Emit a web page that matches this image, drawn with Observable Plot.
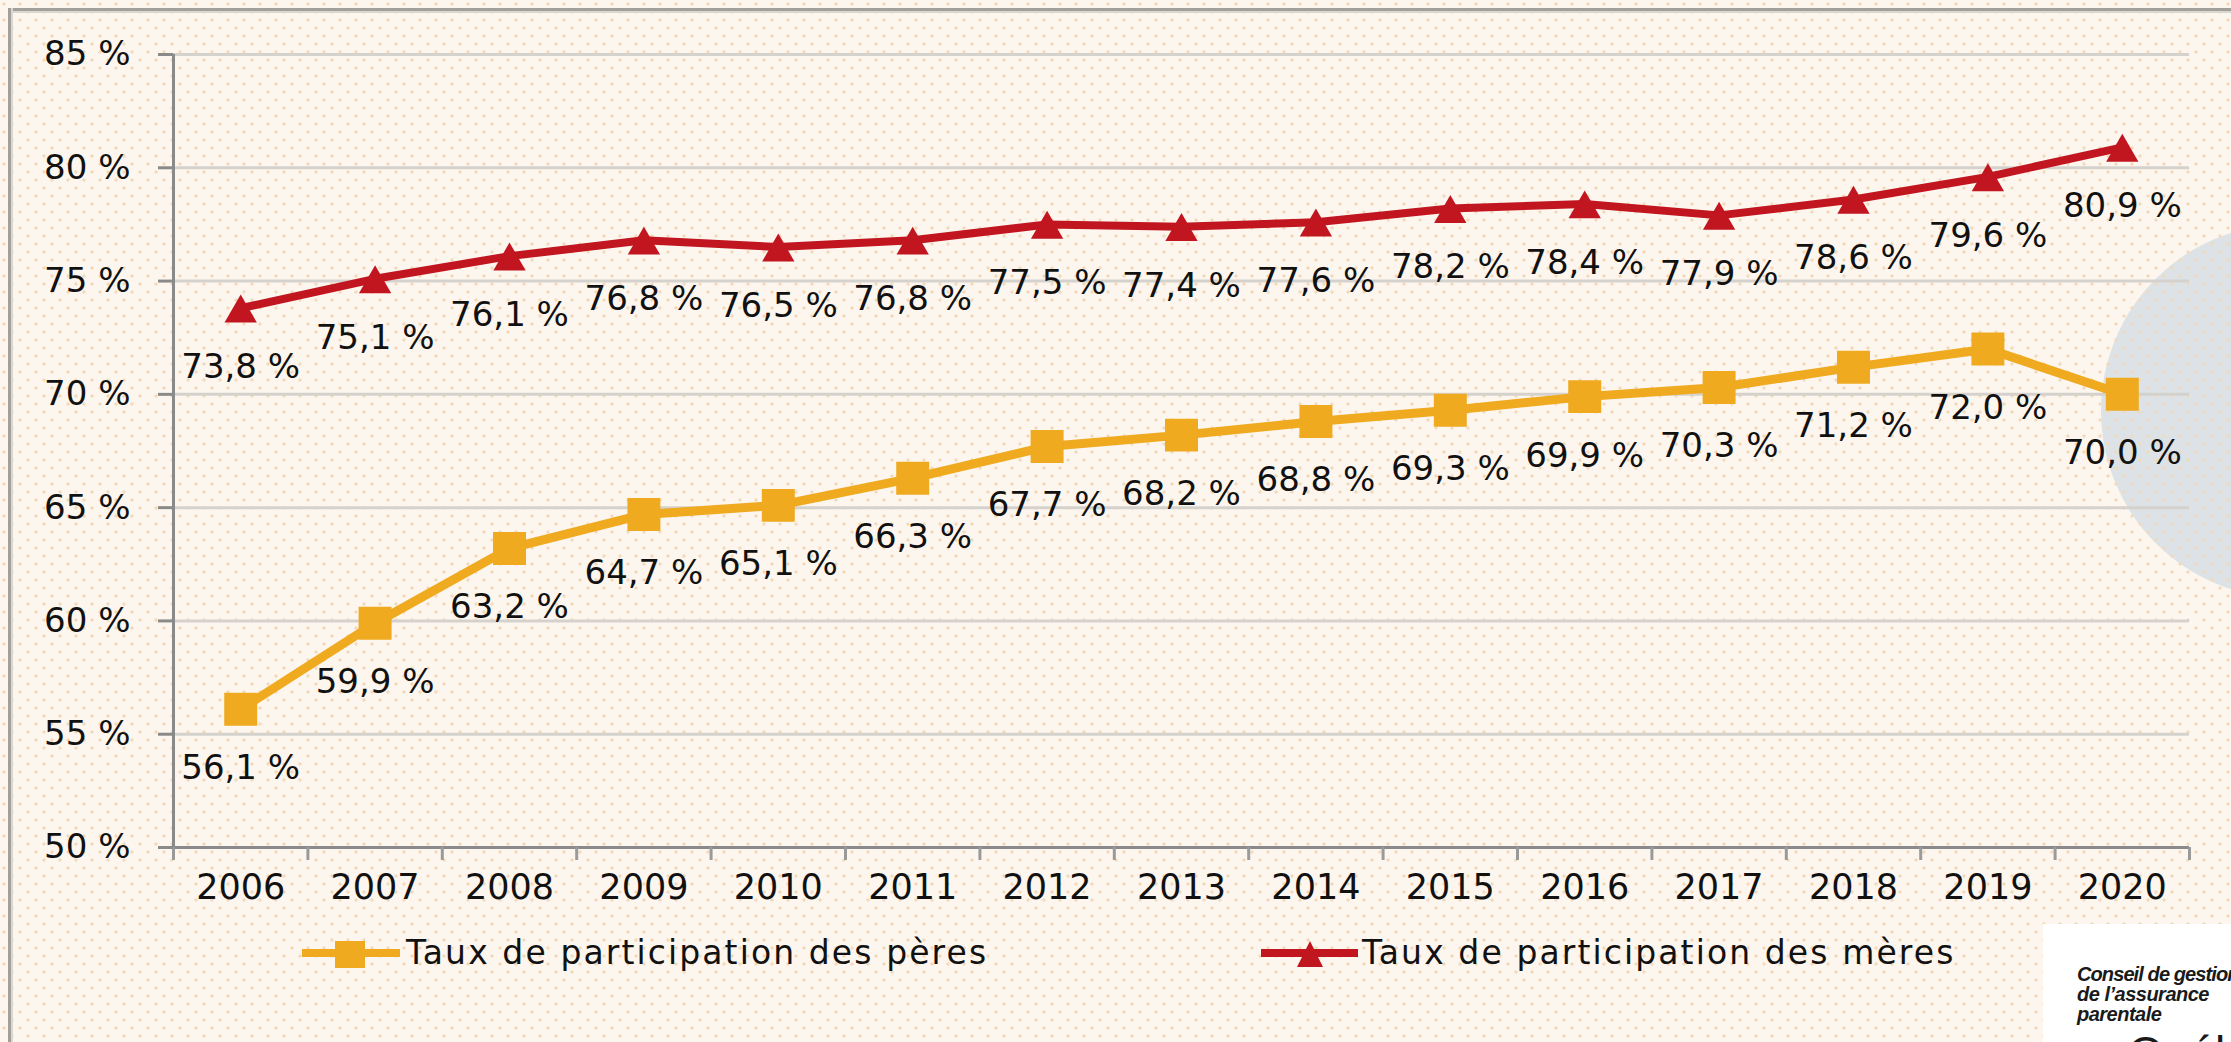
<!DOCTYPE html>
<html>
<head>
<meta charset="utf-8">
<script src="https://cdn.jsdelivr.net/npm/d3@7"></script>
<script src="https://cdn.jsdelivr.net/npm/@observablehq/plot@0.6"></script>
<style>
  html, body { margin: 0; padding: 0; background: #FDF6EE; }
  #wrap { position: relative; width: 2231px; height: 1042px; overflow: hidden; background: #FDF6EE; font-family: "DejaVu Sans", sans-serif; }
  #circle { position: absolute; left: 2101px; top: 224px; width: 374px; height: 374px; border-radius: 50%; background: #DCE2E5; }
  #dots { position: absolute; left: 0; top: 0; width: 2231px; height: 1042px;
    background-image: radial-gradient(circle at 4px 4px, #F2DABA 1.4px, transparent 1.8px),
                      radial-gradient(circle at 12px 12px, #F2DABA 1.4px, transparent 1.8px);
    background-size: 16px 16px; }
  #frameTop { position: absolute; left: 8px; top: 8px; width: 2223px; height: 3px; background: #A3A09B; border-bottom: 2px solid #DAD6D0; }
  #frameLeft { position: absolute; left: 8px; top: 8px; width: 3px; height: 1034px; background: #A3A09B; border-right: 2px solid #DAD6D0; }
  #chart { position: absolute; left: 0; top: 0; }
  .leg { position: absolute; font-size: 33px; letter-spacing: 2.1px; color: #111; white-space: nowrap; line-height: 1; }
  #logo { position: absolute; left: 2043px; top: 924px; width: 188px; height: 118px; background: #FFFFFF; overflow: hidden; }
  #logo .l { position: absolute; left: 34px; font-family: "Liberation Sans", sans-serif; font-weight: bold; font-style: italic; font-size: 20px; color: #1a1a1a; white-space: nowrap; line-height: 20px; }
</style>
</head>
<body>
<div id="wrap">
  <div id="circle"></div>
  <div id="dots"></div>
  <div id="frameTop"></div>
  <div id="frameLeft"></div>
  <div id="chart"></div>
  <div id="legend"></div>
  <div id="logo">
    <div class="l" style="top:40px;letter-spacing:-0.9px">Conseil de gestion</div>
    <div class="l" style="top:60px;letter-spacing:-0.5px">de l’assurance</div>
    <div class="l" style="top:80px;letter-spacing:-0.5px">parentale</div>
    <div style="position:absolute;left:85px;top:106px;font-family:'Liberation Sans',sans-serif;font-size:46px;color:#1a1a1a;line-height:46px;">Québec</div>
  </div>
</div>
<script>
// ---- data ----
const years = [2006, 2007, 2008, 2009, 2010, 2011, 2012, 2013, 2014, 2015, 2016, 2017, 2018, 2019, 2020];
const tauxPeres = [56.1, 59.9, 63.2, 64.7, 65.1, 66.3, 67.7, 68.2, 68.8, 69.3, 69.9, 70.3, 71.2, 72.0, 70.0];
const tauxMeres = [73.8, 75.1, 76.1, 76.8, 76.5, 76.8, 77.5, 77.4, 77.6, 78.2, 78.4, 77.9, 78.6, 79.6, 80.9];
const yTicks = [50, 55, 60, 65, 70, 75, 80, 85];
const yTickLabels = ["50 %", "55 %", "60 %", "65 %", "70 %", "75 %", "80 %", "85 %"];
const seriesNames = ["Taux de participation des pères", "Taux de participation des mères"];
const seriesColors = ["#EFAA1F", "#C1161F"];

const fmt = v => v.toFixed(1).replace(".", ",") + " %";
const peres = years.map((y, i) => ({year: y, value: tauxPeres[i], label: fmt(tauxPeres[i])}));
const meres = years.map((y, i) => ({year: y, value: tauxMeres[i], label: fmt(tauxMeres[i])}));
const bounds = [years[0] - 0.5, ...years.map(y => y + 0.5)];

const axisColor = "#8A8A8A";
const chart = Plot.plot({
  width: 2231,
  height: 1042,
  marginLeft: 173,
  marginRight: 42,
  marginTop: 54,
  marginBottom: 195,
  x: {domain: [bounds[0], bounds[bounds.length - 1]], axis: null, label: null},
  y: {domain: [yTicks[0], yTicks[yTicks.length - 1]], axis: null, label: null},
  style: {background: "transparent", fontFamily: "DejaVu Sans, sans-serif", overflow: "visible"},
  marks: [
    Plot.ruleY(yTicks.slice(1), {stroke: "#D5D2CD", strokeWidth: 3}),
    Plot.ruleY([yTicks[0]], {stroke: axisColor, strokeWidth: 3}),
    Plot.ruleX([bounds[0]], {stroke: axisColor, strokeWidth: 3, insetBottom: -13}),
    Plot.axisX({ticks: bounds, tickSize: 13, tickFormat: () => "", label: null, stroke: "#9A9A9A", strokeWidth: 3}),
    Plot.axisY({ticks: yTicks, tickSize: 15, tickFormat: () => "", label: null, stroke: axisColor, strokeWidth: 3}),
    Plot.text(yTicks, {y: d => d, frameAnchor: "left", dx: -43, textAnchor: "end", text: (d, i) => yTickLabels[i], fontSize: 34, fill: "#111"}),
    Plot.text(years, {x: d => d, frameAnchor: "bottom", dy: 51, text: d => String(d), fontSize: 35, fill: "#111"}),
    Plot.line(peres, {x: "year", y: "value", stroke: seriesColors[0], strokeWidth: 9}),
    Plot.line(meres, {x: "year", y: "value", stroke: seriesColors[1], strokeWidth: 8}),
    Plot.dot(peres, {x: "year", y: "value", symbol: "square", r: 18.6, fill: seriesColors[0]}),
    Plot.dot(meres, {x: "year", y: "value", symbol: "triangle", r: 12, dy: 5, fill: seriesColors[1]}),
    Plot.text(peres, {x: "year", y: "value", text: "label", dy: 59, fontSize: 34, fill: "#111"}),
    Plot.text(meres, {x: "year", y: "value", text: "label", dy: 59, fontSize: 34, fill: "#111"})
  ]
});
document.getElementById("chart").appendChild(chart);

// ---- legend ----
const legend = document.getElementById("legend");
const legendItems = [
  {name: seriesNames[0], color: seriesColors[0], x0: 302, x1: 400, cx: 350, text: 406, sym: "square"},
  {name: seriesNames[1], color: seriesColors[1], x0: 1261, x1: 1358, cx: 1310, text: 1362, sym: "triangle"}
];
const ns = "http://www.w3.org/2000/svg";
const lsvg = document.createElementNS(ns, "svg");
lsvg.setAttribute("width", 2231); lsvg.setAttribute("height", 1042);
lsvg.style.position = "absolute"; lsvg.style.left = "0"; lsvg.style.top = "0";
legendItems.forEach(it => {
  const ln = document.createElementNS(ns, "line");
  ln.setAttribute("x1", it.x0); ln.setAttribute("x2", it.x1);
  ln.setAttribute("y1", 953); ln.setAttribute("y2", 953);
  ln.setAttribute("stroke", it.color); ln.setAttribute("stroke-width", 8);
  lsvg.appendChild(ln);
  let m;
  if (it.sym === "square") {
    m = document.createElementNS(ns, "rect");
    m.setAttribute("x", it.cx - 15); m.setAttribute("y", 941);
    m.setAttribute("width", 30); m.setAttribute("height", 27);
  } else {
    m = document.createElementNS(ns, "path");
    m.setAttribute("d", `M${it.cx},941 L${it.cx + 13},967 L${it.cx - 13},967 Z`);
  }
  m.setAttribute("fill", it.color);
  lsvg.appendChild(m);
  const t = document.createElement("div");
  t.className = "leg";
  t.textContent = it.name;
  t.style.left = it.text + "px";
  t.style.top = "936px";
  legend.appendChild(t);
});
legend.appendChild(lsvg);
</script>
</body>
</html>
